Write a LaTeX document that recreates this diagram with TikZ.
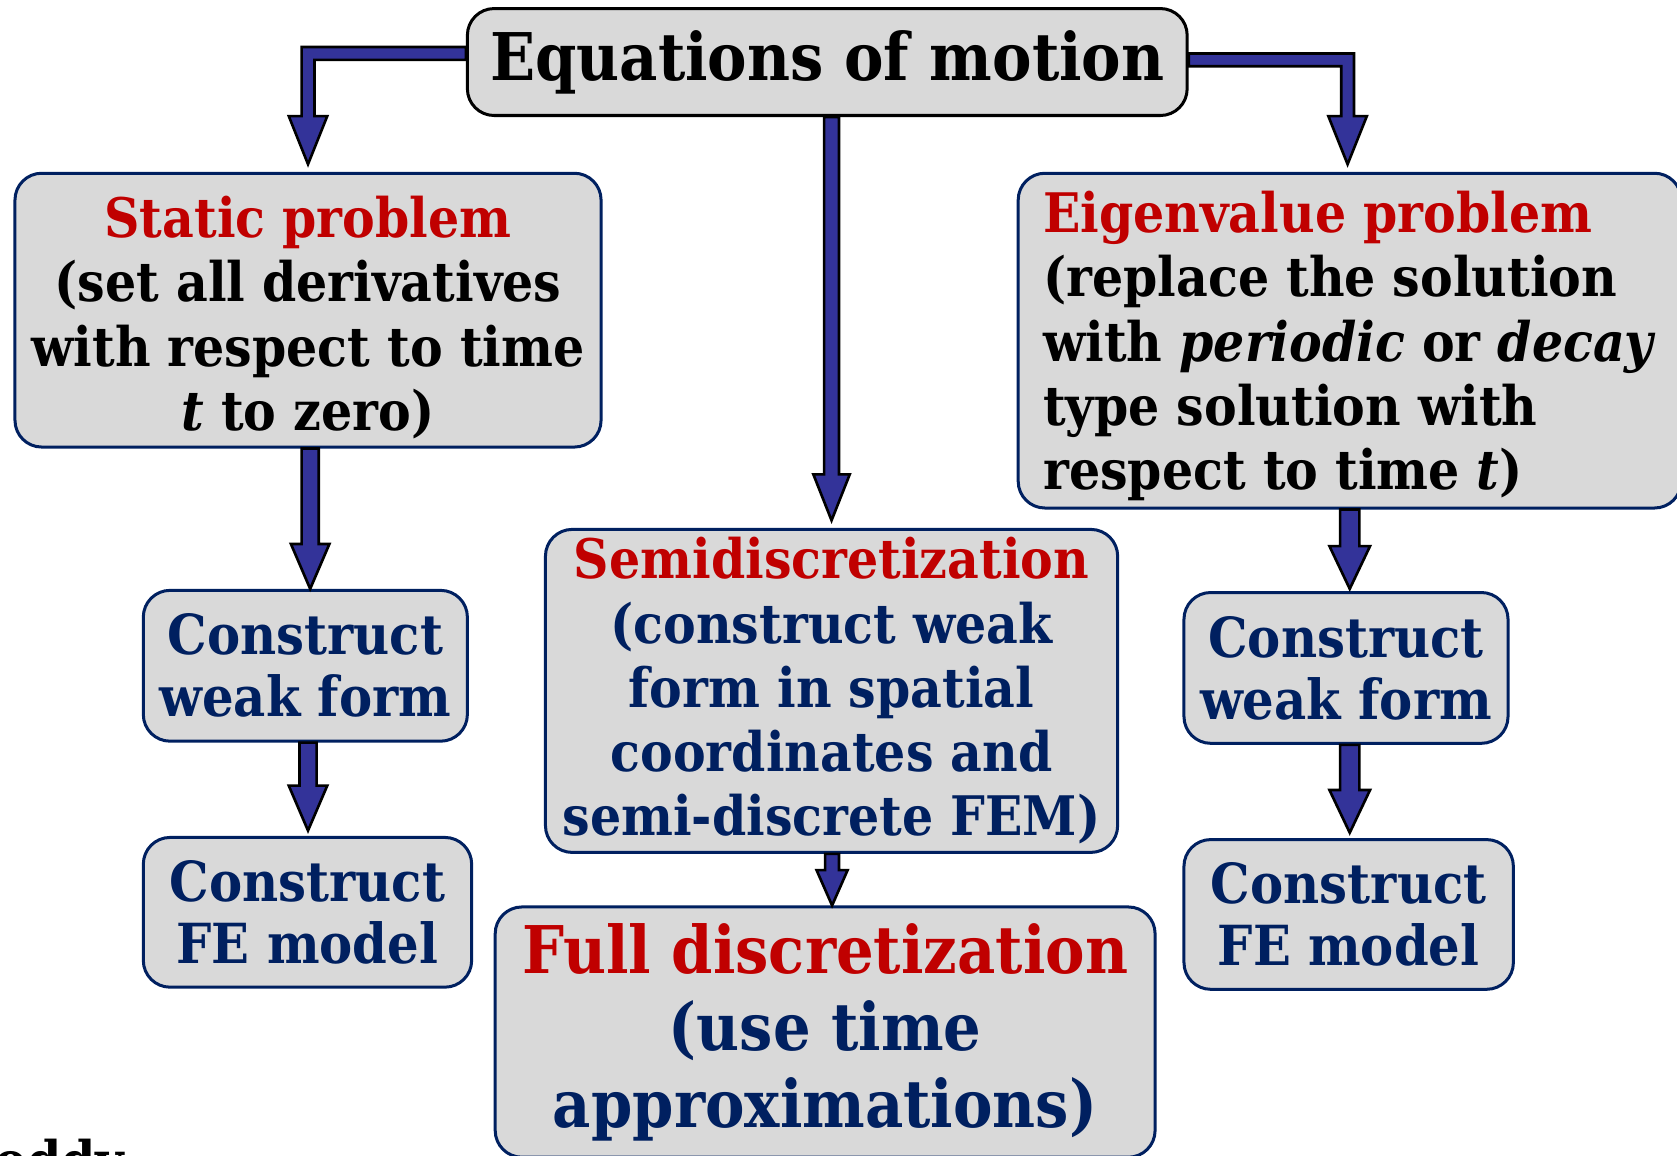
\documentclass[tikz,border=0pt]{standalone}
\usepackage{fontspec}
\setmainfont{DejaVu Serif}[FakeStretch=0.9]
\usepackage{xcolor}
\usetikzlibrary{calc}

\definecolor{titlered}{RGB}{192,0,0}
\definecolor{navytext}{RGB}{0,32,96}
\definecolor{navyline}{RGB}{0,32,96}
\definecolor{boxgray}{RGB}{217,217,217}
\definecolor{arrowblue}{RGB}{51,51,153}

\newcommand{\boxfont}{\fontsize{14.5}{17.1}\selectfont\bfseries}
\newcommand{\wfont}{\fontsize{14.7}{16.5}\selectfont\bfseries}
\newcommand{\bigfont}{\fontsize{17.5}{20.5}\selectfont\bfseries}

% fat block arrow going down: from, tip, shaft half width, head half width, head length
\newcommand{\fatdown}[5]{%
\draw[fatarrow] let \p1=#1, \p2=#2 in
  (\x2-#3,\y1) -- (\x2-#3,\y2+#5) -- (\x2-#4,\y2+#5) -- (\x2,\y2)
  -- (\x2+#4,\y2+#5) -- (\x2+#3,\y2+#5) -- (\x2+#3,\y1) -- cycle;}
% same, but leaving a box sideways first
\newcommand{\fatbend}[5]{%
\draw[fatarrow] let \p1=#1, \p2=#2, \n1={sign(\x2-\x1)} in
  (\x1,\y1+#3) -- (\x2+\n1*#3,\y1+#3) -- (\x2+\n1*#3,\y2+#5) -- (\x2+\n1*#4,\y2+#5)
  -- (\x2,\y2) -- (\x2-\n1*#4,\y2+#5) -- (\x2-\n1*#3,\y2+#5) -- (\x2-\n1*#3,\y1-#3)
  -- (\x1,\y1-#3) -- cycle;}

\begin{document}
\begin{tikzpicture}[
  box/.style={draw=navyline, fill=boxgray, line width=0.8pt, rounded corners=0.25cm,
    inner sep=0pt, align=center, text=navytext, font=\boxfont},
  fatarrow/.style={draw=black, fill=arrowblue, line width=0.7pt, line join=miter},
]
\useasboundingbox (0,0) rectangle (15.68,-10.80);

% top
\node[box, draw=black, text=black, font=\bigfont, minimum width=6.73cm, minimum height=1cm] (eq) at (7.735,-0.58) {Equations of motion};

% left column
\node[box, text=black, minimum width=5.48cm, minimum height=2.56cm] (static) at (2.88,-2.90)
  {\rule{0pt}{15pt}\textcolor{titlered}{Static problem}\\(set all derivatives\\with respect to time\\\textit{t} to zero)};
\node[box, font=\wfont, minimum width=3.03cm, minimum height=1.41cm] (weakL) at (2.855,-6.225) {Construct\\weak form};
\node[box, font=\wfont, minimum width=3.07cm, minimum height=1.40cm] (feL) at (2.875,-8.53) {Construct\\FE model};

% middle column
\node[box, minimum width=5.35cm, minimum height=3.02cm] (semi) at (7.775,-6.46)
  {\textcolor{titlered}{Semidiscretization}\\(construct weak\\form in spatial\\coordinates and\\semi-discrete FEM)};
\node[box, font=\bigfont, minimum width=6.17cm, minimum height=2.34cm] (full) at (7.715,-9.65)
  {\textcolor{titlered}{Full discretization}\\(use time\\approximations)};

% right column
\node[box, text=black, align=left, minimum width=6.20cm, minimum height=3.13cm] (eigen) at (12.62,-3.185)
  {\rule{0pt}{13.9pt}\textcolor{titlered}{Eigenvalue problem}\\(replace the solution\\with \textit{periodic} or \textit{decay}\\type solution with\\respect to time \textit{t})};
\node[box, font=\wfont, minimum width=3.03cm, minimum height=1.41cm] (weakR) at (12.585,-6.245) {Construct\\weak form};
\node[box, font=\wfont, minimum width=3.08cm, minimum height=1.40cm] (feR) at (12.61,-8.55) {Construct\\FE model};

\node[anchor=base west, inner sep=0pt, font=\boxfont] (cut) at (-0.06,-11.04) {oddy};

% arrows
\fatbend{([yshift=0.08cm]eq.west)}{($(static.north)+(0,0.07)$)}{0.06cm}{0.18cm}{0.45cm}
\fatbend{([yshift=0.02cm]eq.east)}{($(eigen.north)+(-0.02,0.07)$)}{0.06cm}{0.18cm}{0.45cm}
\fatdown{(eq.south)}{($(semi.north)+(0,0.07)$)}{0.07cm}{0.17cm}{0.43cm}
\fatdown{(static.south)}{($(weakL.north)+(0.045,0)$)}{0.08cm}{0.18cm}{0.42cm}
\fatdown{(weakL.south)}{($(feL.north)+(0.005,0.05)$)}{0.08cm}{0.18cm}{0.42cm}
\fatdown{(semi.south)}{($(full.north)+(0.065,0)$)}{0.065cm}{0.145cm}{0.33cm}
\fatdown{(eigen.south)}{($(weakR.north)+(0.035,0.02)$)}{0.09cm}{0.19cm}{0.40cm}
\fatdown{(weakR.south)}{($(feR.north)+(0.01,0.05)$)}{0.09cm}{0.19cm}{0.40cm}
\end{tikzpicture}
\end{document}
